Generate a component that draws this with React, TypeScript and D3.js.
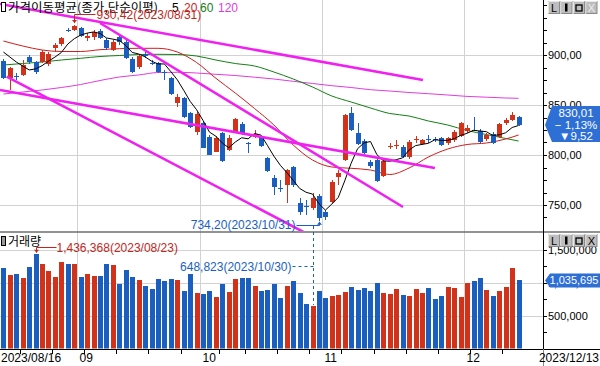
import React from "react";
import * as d3 from "d3";

// ---- dates (trading days) ----
const augDays = [16, 17, 18, 21, 22, 23, 24, 25, 28, 29, 30, 31];
const sepDays = [1, 4, 5, 6, 7, 8, 11, 12, 13, 14, 15, 18, 19, 20, 21, 22, 25, 26, 27];
const octDays = [4, 5, 6, 10, 11, 12, 13, 16, 17, 18, 19, 20, 23, 24, 25, 26, 27, 30, 31];
const novDays = [1, 2, 3, 6, 7, 8, 9, 10, 13, 14, 15, 16, 17, 20, 21, 22, 23, 24, 27, 28, 29, 30];
const decDays = [1, 4, 5, 6, 7, 8, 11, 12, 13];

// ---- OHLC ----
const opens = [894, 876.7, 879, 880, 898, 892.7, 893.3, 890.7, 906.7, 910.7, 925, 925, 926.7, 917.3, 918, 924, 915, 905, 918.3, 913.3, 896, 887.7, 900.7, 892, 891.7, 883, 876.7, 851.7, 857.3, 841.7, 822.7, 831.7, 818.3, 803.3, 821.7, 805, 823.3, 830.7, 812.3, 818.3, 816.7, 796.7, 776.7, 766.7, 770, 787.7, 751.7, 749.3, 746.7, 759, 743.3, 753.3, 778.3, 795, 842.3, 822.3, 814.3, 793.3, 795, 779.3, 808, 809, 807.7, 797.7, 815.5, 811, 816, 816.5, 816.7, 811.7, 815, 819, 824.3, 825, 824.3, 815.7, 821, 818.3, 831.7, 835, 837.7];
const highs = [896, 888, 882, 895, 900, 894, 905, 903, 912, 918, 927, 930.42, 928, 921.7, 925, 926, 917, 915, 920, 916, 898, 900, 903, 895, 893, 885, 878, 860.7, 858, 843, 843, 834, 820, 819, 823, 820, 837, 833, 813, 825, 818, 798, 780, 775, 786, 789, 756.7, 755, 761.7, 761, 745, 775, 785, 841, 848.3, 831.7, 816, 795, 797, 796, 812.3, 815, 810, 815, 819, 816, 820, 818.3, 818, 818, 825, 833, 830, 837.7, 826, 822, 823, 832, 836.7, 842.7, 839];
const lows = [876, 865, 875, 879, 891, 881, 892, 889, 903, 909, 922.7, 924, 918, 914, 915, 916, 905, 904, 910, 896, 882, 886, 897, 890, 882, 875, 860, 848.3, 837, 827, 820, 807, 800, 803, 793, 804, 822, 820, 801.7, 817, 808, 783, 760, 763.3, 751.7, 768, 740, 740, 745, 734.2, 735, 752, 770, 794, 824, 810, 801, 786.7, 773, 778, 805.7, 805.7, 797, 796, 811.7, 810, 812.3, 813.3, 809, 810, 813, 818, 822, 824, 812, 814, 811, 817, 830, 834, 829.5];
const closes = [877.3, 886.7, 878, 890, 893.3, 882.7, 902.7, 900.7, 910, 916.7, 924.7, 929.3, 919.3, 919.3, 922.7, 917.3, 906.7, 913.3, 912.7, 897.3, 882.7, 899.3, 898.7, 891.3, 883.3, 882.7, 860.7, 858.3, 838.3, 828.3, 840.7, 807.3, 800, 817.3, 794.3, 817.3, 835.7, 821.7, 812, 821, 809, 784, 768.3, 766.3, 785, 770, 743.3, 749, 757.3, 736.7, 738.3, 773.3, 782.3, 840, 825, 811, 802.3, 789, 774.3, 794.3, 809, 810, 798.3, 813.3, 816.3, 815, 815.7, 816, 810, 816.7, 823.3, 831.7, 827, 824.7, 813.3, 820, 812.3, 830.7, 835, 839.53, 830.01];

// ---- volume ----
const volumes = [1226000, 1121000, 1131000, 1068000, 1242000, 1436368, 1289000, 1179000, 1084000, 1321000, 1289000, 1289000, 1084000, 1131000, 1100000, 1100000, 1289000, 1273000, 989000, 1195000, 1084000, 1037000, 958000, 910000, 1053000, 1021000, 1053000, 1037000, 879000, 1131000, 847000, 832000, 879000, 784000, 989000, 863000, 1053000, 1068000, 1068000, 958000, 879000, 895000, 989000, 768000, 958000, 1021000, 847000, 674000, 648823, 879000, 768000, 800000, 816000, 863000, 942000, 895000, 926000, 879000, 1005000, 847000, 832000, 910000, 816000, 800000, 910000, 847000, 926000, 753000, 800000, 942000, 926000, 784000, 1005000, 1021000, 1068000, 895000, 800000, 879000, 942000, 1226000, 1035695];

// ---- moving averages ----
const ma5Head = [903, 898, 893, 889];
const maIdx = [0, 3, 6, 9, 12, 15, 18, 21, 24, 27, 30, 33, 36, 39, 42, 45, 48, 51, 54, 57, 60, 63, 66, 69, 72, 75, 78, 80];
const ma20 = [914, 909, 905, 903.5, 903.5, 905.3, 906.3, 906.7, 906.7, 903, 892.5, 876.7, 862, 846.5, 830, 810, 795, 788, 786.7, 785, 780.5, 787, 798, 806, 810.5, 812, 816, 820];
const ma60 = [890, 891.5, 893, 895, 896.7, 898.5, 899.5, 900.5, 900.7, 900.5, 899, 895, 891.5, 889, 883, 876, 868, 859, 853, 847, 841.5, 839, 834, 830, 824.5, 820.5, 816.5, 814];
const ma120 = [861, 863, 865, 867.5, 870.5, 874.5, 878, 880, 882.5, 882.7, 882, 880.7, 879.5, 877.8, 876, 873.7, 871.5, 869.3, 867.5, 865.3, 864, 862.5, 861.3, 860, 858.6, 857.8, 857, 856.7];

// ---- trend lines (index, price) ----
const trendStartIdx = [-0.53, 15.0, 0.5, -0.53];
const trendStartPrice = [951, 932, 878.3, 865];
const trendEndIdx = [65.15, 62.05, 47.5, 67.0];
const trendEndPrice = [875, 748, 720, 787];

const priceTicks = [750, 800, 850, 900];
const volumeTicks = [500000, 1000000, 1500000];
const maPeriods = ["5", "20", "60", "120"];

const UP = "#d23219";
const DOWN = "#1a5fbf";
const FONT = "'Liberation Sans', Arial, sans-serif";
const KFONT = "'Noto Sans CJK KR', 'Liberation Sans', sans-serif";

type D = { m: number; d: number };
const dates: D[] = [
  ...augDays.map((d) => ({ m: 8, d })),
  ...sepDays.map((d) => ({ m: 9, d })),
  ...octDays.map((d) => ({ m: 10, d })),
  ...novDays.map((d) => ({ m: 11, d })),
  ...decDays.map((d) => ({ m: 12, d })),
];

export default function App() {
  const W = 600, H = 366;
  const axisX = 543;
  const priceBottom = 231;
  const volBottom = 348.5;
  const n = dates.length;

  const x = d3.scaleBand<number>().domain(d3.range(n)).range([0.2, 521.8]).paddingInner(0.22).paddingOuter(0.11);
  const cx = (i: number) => (x(i) as number) + x.bandwidth() / 2;
  const xi = d3.scaleLinear().domain([0, n - 1]).range([cx(0), cx(n - 1)]);
  const y = d3.scaleLinear().domain([750, 900]).range([205, 55]);
  const yv = d3.scaleLinear().domain([0, 1500000]).range([volBottom, 250]);

  const ma5 = closes.map((_, i) => (i < 4 ? ma5Head[i] : d3.mean(closes.slice(i - 4, i + 1)) as number));

  const lineIdx = d3.line<number>().x((_, k) => xi(k)).y((v) => y(v));
  const lineMA = d3.line<number>().x((_, k) => xi(maIdx[k])).y((v) => y(v)).curve(d3.curveMonotoneX);

  const monthStarts = dates.map((d, i) => i > 0 && d.m !== dates[i - 1].m).map((b, i) => (b ? i : -1)).filter((i) => i >= 0);
  const weekStarts = dates
    .map((d, i) => {
      if (i === 0) return -1;
      const a = new Date(2023, dates[i - 1].m - 1, dates[i - 1].d).getDay();
      const b = new Date(2023, d.m - 1, d.d).getDay();
      return b < a ? i : -1;
    })
    .filter((i) => i >= 0);
  const bx = (i: number) => Math.round(cx(i) - x.step() / 2) + 0.5;

  const minorPrice = d3.range(737.5, 955, 12.5);
  const minorVol = d3.range(250000, 1500001, 250000);

  const fmtP = (v: number) => v.toFixed(2).replace(".", ",");
  const maColors = ["#000", "#d01c1c", "#128012", "#e03ce0"];
  const maLabelX = [172, 184, 200, 218];

  const button = (bxp: number, by: number, k: number, glyph: string, dim: boolean) => (
    <g key={k}>
      <rect x={bxp + 0.5} y={by + 0.5} width={11} height={12} fill="#bdbdbd" stroke="#8a8a8a" />
      <line x1={bxp + 0.5} y1={by + 0.5} x2={bxp + 11.5} y2={by + 0.5} stroke="#e8e8e8" />
      <line x1={bxp + 0.5} y1={by + 0.5} x2={bxp + 0.5} y2={by + 12.5} stroke="#e8e8e8" />
      {glyph === "box" ? (
        <rect x={bxp + 3} y={by + 4} width={6} height={6} fill="none" stroke="#000" strokeWidth={1.3} />
      ) : glyph === "bar" ? (
        <rect x={bxp + 4.5} y={by + 2.5} width={2.5} height={8} fill="#000" />
      ) : (
        <text x={bxp + 6} y={by + 10.5} textAnchor="middle" fontSize={11} fontFamily={FONT} fill={dim ? "#eeeeee" : "#000"}>{glyph}</text>
      )}
    </g>
  );
  const buttons = (by: number, dimX: boolean) => (
    <g>
      {["L", "bar", "box", "X"].map((g, k) => button(548 + k * 12.5, by, k, g, g === "X" && dimX))}
    </g>
  );

  return (
    <svg width={W} height={H} style={{ position: "absolute", left: 0, top: 0, background: "#fff" }} xmlns="http://www.w3.org/2000/svg">
      <defs>
        <clipPath id="pclip"><rect x={0} y={0} width={axisX} height={priceBottom} /></clipPath>
        <clipPath id="vclip"><rect x={0} y={233} width={axisX} height={volBottom - 233} /></clipPath>
      </defs>
      <rect x={0} y={0} width={W} height={H} fill="#fff" />

      {/* grid */}
      <g stroke="#d2d2d2" strokeWidth={1} shapeRendering="crispEdges">
        {monthStarts.map((i) => (
          <line key={"vg" + i} x1={bx(i)} x2={bx(i)} y1={0} y2={volBottom} />
        ))}
        {priceTicks.map((p) => (
          <line key={"pg" + p} x1={0} x2={axisX} y1={Math.round(y(p)) + 0.5} y2={Math.round(y(p)) + 0.5} />
        ))}
        {volumeTicks.map((v) => (
          <line key={"vgl" + v} x1={0} x2={axisX} y1={Math.round(yv(v)) + 0.5} y2={Math.round(yv(v)) + 0.5} />
        ))}
      </g>

      {/* price panel */}
      <g clipPath="url(#pclip)">
        <path d={lineMA(ma120) || ""} fill="none" stroke="#e03ce0" strokeWidth={1} />
        <path d={lineMA(ma60) || ""} fill="none" stroke="#128012" strokeWidth={1} />
        <path d={lineMA(ma20) || ""} fill="none" stroke="#d01c1c" strokeWidth={1} />
        {dates.map((_, i) => {
          const o = opens[i], c = closes[i];
          const col = c >= o ? UP : DOWN;
          const xc = Math.round(cx(i));
          const top = Math.round(y(Math.max(o, c)));
          const bot = Math.round(y(Math.min(o, c)));
          return (
            <g key={"c" + i} shapeRendering="crispEdges">
              <line x1={xc + 0.5} x2={xc + 0.5} y1={Math.round(y(highs[i]))} y2={Math.round(y(lows[i]))} stroke={col} />
              <rect x={xc - 2} y={top} width={5} height={Math.max(1, bot - top)} fill={col} />
            </g>
          );
        })}
        <path d={lineIdx(ma5) || ""} fill="none" stroke="#000" strokeWidth={1} />
        {trendStartIdx.map((s, k) => (
          <line key={"t" + k} x1={xi(s)} y1={y(trendStartPrice[k])} x2={xi(trendEndIdx[k])} y2={y(trendEndPrice[k])} stroke="#f020f0" strokeWidth={2.6} />
        ))}
      </g>

      {/* volume bars */}
      <g clipPath="url(#vclip)" shapeRendering="crispEdges">
        {volumes.map((v, i) => {
          const col = closes[i] >= opens[i] ? UP : DOWN;
          const t = Math.round(yv(v));
          return <rect key={"v" + i} x={Math.round(cx(i)) - 2} y={t} width={5} height={Math.round(yv(0)) - t} fill={col} />;
        })}
      </g>

      {/* separator */}
      <line x1={0} x2={W} y1={232} y2={232} stroke="#6e6e6e" strokeWidth={1.5} />

      {/* axes */}
      <g stroke="#000" shapeRendering="crispEdges">
        <line x1={axisX + 0.5} x2={axisX + 0.5} y1={0} y2={volBottom} />
        <line x1={0} x2={W} y1={Math.round(volBottom) + 0.5} y2={Math.round(volBottom) + 0.5} />
        {minorPrice.map((p) => (
          <line key={"mt" + p} x1={axisX} x2={axisX + 4} y1={Math.round(y(p)) + 0.5} y2={Math.round(y(p)) + 0.5} />
        ))}
        {minorVol.map((v) => (
          <line key={"mv" + v} x1={axisX} x2={axisX + 4} y1={Math.round(yv(v)) + 0.5} y2={Math.round(yv(v)) + 0.5} />
        ))}
        {weekStarts.map((i) => (
          <line key={"wt" + i} x1={bx(i)} x2={bx(i)} y1={349} y2={monthStarts.includes(i) ? 366 : 354} />
        ))}
        <line x1={axisX + 0.5} x2={axisX + 0.5} y1={349} y2={366} stroke="#888" />
      </g>
      {priceTicks.map((p) => (
        <text key={"pl" + p} x={548} y={y(p) + 4} fontSize={11} fontFamily={FONT} fill="#000">{fmtP(p)}</text>
      ))}
      {volumeTicks.map((v) => (
        <text key={"vl" + v} x={548} y={yv(v) + 4} fontSize={11} fontFamily={FONT} fill="#000">{d3.format(",")(v)}</text>
      ))}

      {/* date labels */}
      <text x={1} y={362} fontSize={12} fontFamily={FONT}>{`2023/${String(dates[0].m).padStart(2, "0")}/${dates[0].d}`}</text>
      {monthStarts.map((i) => (
        <text key={"ml" + i} x={bx(i) + 2} y={362} fontSize={12} fontFamily={FONT}>{String(dates[i].m).padStart(2, "0")}</text>
      ))}
      <text x={599} y={362} textAnchor="end" fontSize={12} fontFamily={FONT}>{`2023/${dates[n - 1].m}/${dates[n - 1].d}`}</text>

      {/* titles */}
      <rect x={1.5} y={2.5} width={4} height={9} fill="#fff" stroke="#000" />
      <text x={8} y={12} fontSize={12} fontFamily={KFONT} fill="#000" textLength={150} lengthAdjust="spacingAndGlyphs">가격이동평균(종가,단순이평)</text>
      {maPeriods.map((p, k) => (
        <text key={"mp" + p} x={maLabelX[k]} y={12} fontSize={12} fontFamily={FONT} fill={maColors[k]}>{p}</text>
      ))}
      <rect x={1.5} y={236.5} width={4} height={9} fill="#9a9a9a" stroke="#000" />
      <text x={8} y={246} fontSize={12} fontFamily={KFONT} fill="#000">거래량</text>

      {/* high annotation */}
      {(() => {
        const i = highs.indexOf(d3.max(highs) as number);
        const xa = Math.round(cx(i)) + 0.5;
        const ya = y(highs[i]) - 1.5;
        const ly = 14.5;
        return (
          <g>
            <path d={`M${xa},${ly} L${xa},${ya} M${xa},${ly} L${xa + 21},${ly}`} stroke="#c0281e" fill="none" />
            <path d={`M${xa - 2.5},${ya - 3} L${xa + 2.5},${ya - 3} L${xa},${ya} Z`} fill="#c0281e" />
            <text x={xa + 22} y={ly + 4} fontSize={12} fontFamily={FONT} fill="#c0281e">{`${fmtP(highs[i])}(2023/${String(dates[i].m).padStart(2, "0")}/${dates[i].d})`}</text>
          </g>
        );
      })()}
      {/* low annotation */}
      {(() => {
        const i = lows.indexOf(d3.min(lows) as number);
        const xa = Math.round(cx(i)) + 0.5;
        const ya = y(lows[i]) + 1;
        const ly = 225.5;
        return (
          <g>
            <path d={`M${xa},${ly} L${xa},${ya} M${xa},${ly} L${xa - 23},${ly}`} stroke="#1a5fbf" fill="none" />
            <path d={`M${xa - 2.5},${ya + 3} L${xa + 2.5},${ya + 3} L${xa},${ya} Z`} fill="#1a5fbf" />
            <text x={xa - 24} y={ly + 3} textAnchor="end" fontSize={12} fontFamily={FONT} fill="#1a5fbf">{`${fmtP(lows[i])}(2023/${dates[i].m}/${dates[i].d})`}</text>
          </g>
        );
      })()}
      {/* max volume */}
      {(() => {
        const i = volumes.indexOf(d3.max(volumes) as number);
        const xa = Math.round(cx(i)) + 0.5;
        const ya = yv(volumes[i]) - 1.5;
        const ly = 247.5;
        return (
          <g>
            <path d={`M${xa},${ly} L${xa},${ya} M${xa},${ly} L${xa + 20},${ly}`} stroke="#c0281e" fill="none" />
            <path d={`M${xa - 2.5},${ya - 3} L${xa + 2.5},${ya - 3} L${xa},${ya} Z`} fill="#c0281e" />
            <text x={xa + 20} y={ly + 4.5} fontSize={12} fontFamily={FONT} fill="#c0281e">{`${d3.format(",")(volumes[i])}(2023/${String(dates[i].m).padStart(2, "0")}/${dates[i].d})`}</text>
          </g>
        );
      })()}
      {/* min volume */}
      {(() => {
        const i = volumes.indexOf(d3.min(volumes) as number);
        const xa = Math.round(cx(i)) + 0.5;
        const ly = 266.5;
        return (
          <g>
            <path d={`M${xa},${226} L${xa},${yv(volumes[i]) - 1} M${xa},${ly} L${xa - 21},${ly}`} stroke="#1a5fbf" strokeDasharray="3,3" fill="none" />
            <text x={xa - 22} y={ly + 4.5} textAnchor="end" fontSize={12} fontFamily={FONT} fill="#1a5fbf">{`${d3.format(",")(volumes[i])}(2023/${dates[i].m}/${dates[i].d})`}</text>
          </g>
        );
      })()}

      {/* current price box */}
      {(() => {
        const last = closes[n - 1], prev = closes[n - 2];
        const yc = y(last);
        const ch = last - prev;
        const pct = (ch / prev) * 100;
        return (
          <g>
            <path d={`M545,${yc} L552,${yc - 19} L600,${yc - 19} L600,${yc + 17} L552,${yc + 17} Z`} fill="#2e6fd6" />
            <text x={576} y={yc - 8} textAnchor="middle" fontSize={11.5} fontFamily={FONT} fill="#fff">{fmtP(last)}</text>
            <text x={576} y={yc + 4} textAnchor="middle" fontSize={11.5} fontFamily={FONT} fill="#fff">{`− ${Math.abs(pct).toFixed(2).replace(".", ",")}%`}</text>
            <text x={576} y={yc + 15} textAnchor="middle" fontSize={11.5} fontFamily={FONT} fill="#fff">{`▼${Math.abs(ch).toFixed(2).replace(".", ",")}`}</text>
          </g>
        );
      })()}
      {(() => {
        const v = volumes[n - 1];
        const yc = yv(v);
        return (
          <g>
            <path d={`M545,${yc} L550,${yc - 7} L600,${yc - 7} L600,${yc + 7} L550,${yc + 7} Z`} fill="#2e6fd6" />
            <text x={574} y={yc + 4} textAnchor="middle" fontSize={11} fontFamily={FONT} fill="#fff">{d3.format(",")(v)}</text>
          </g>
        );
      })()}

      {buttons(1, true)}
      {buttons(234, false)}
    </svg>
  );
}
